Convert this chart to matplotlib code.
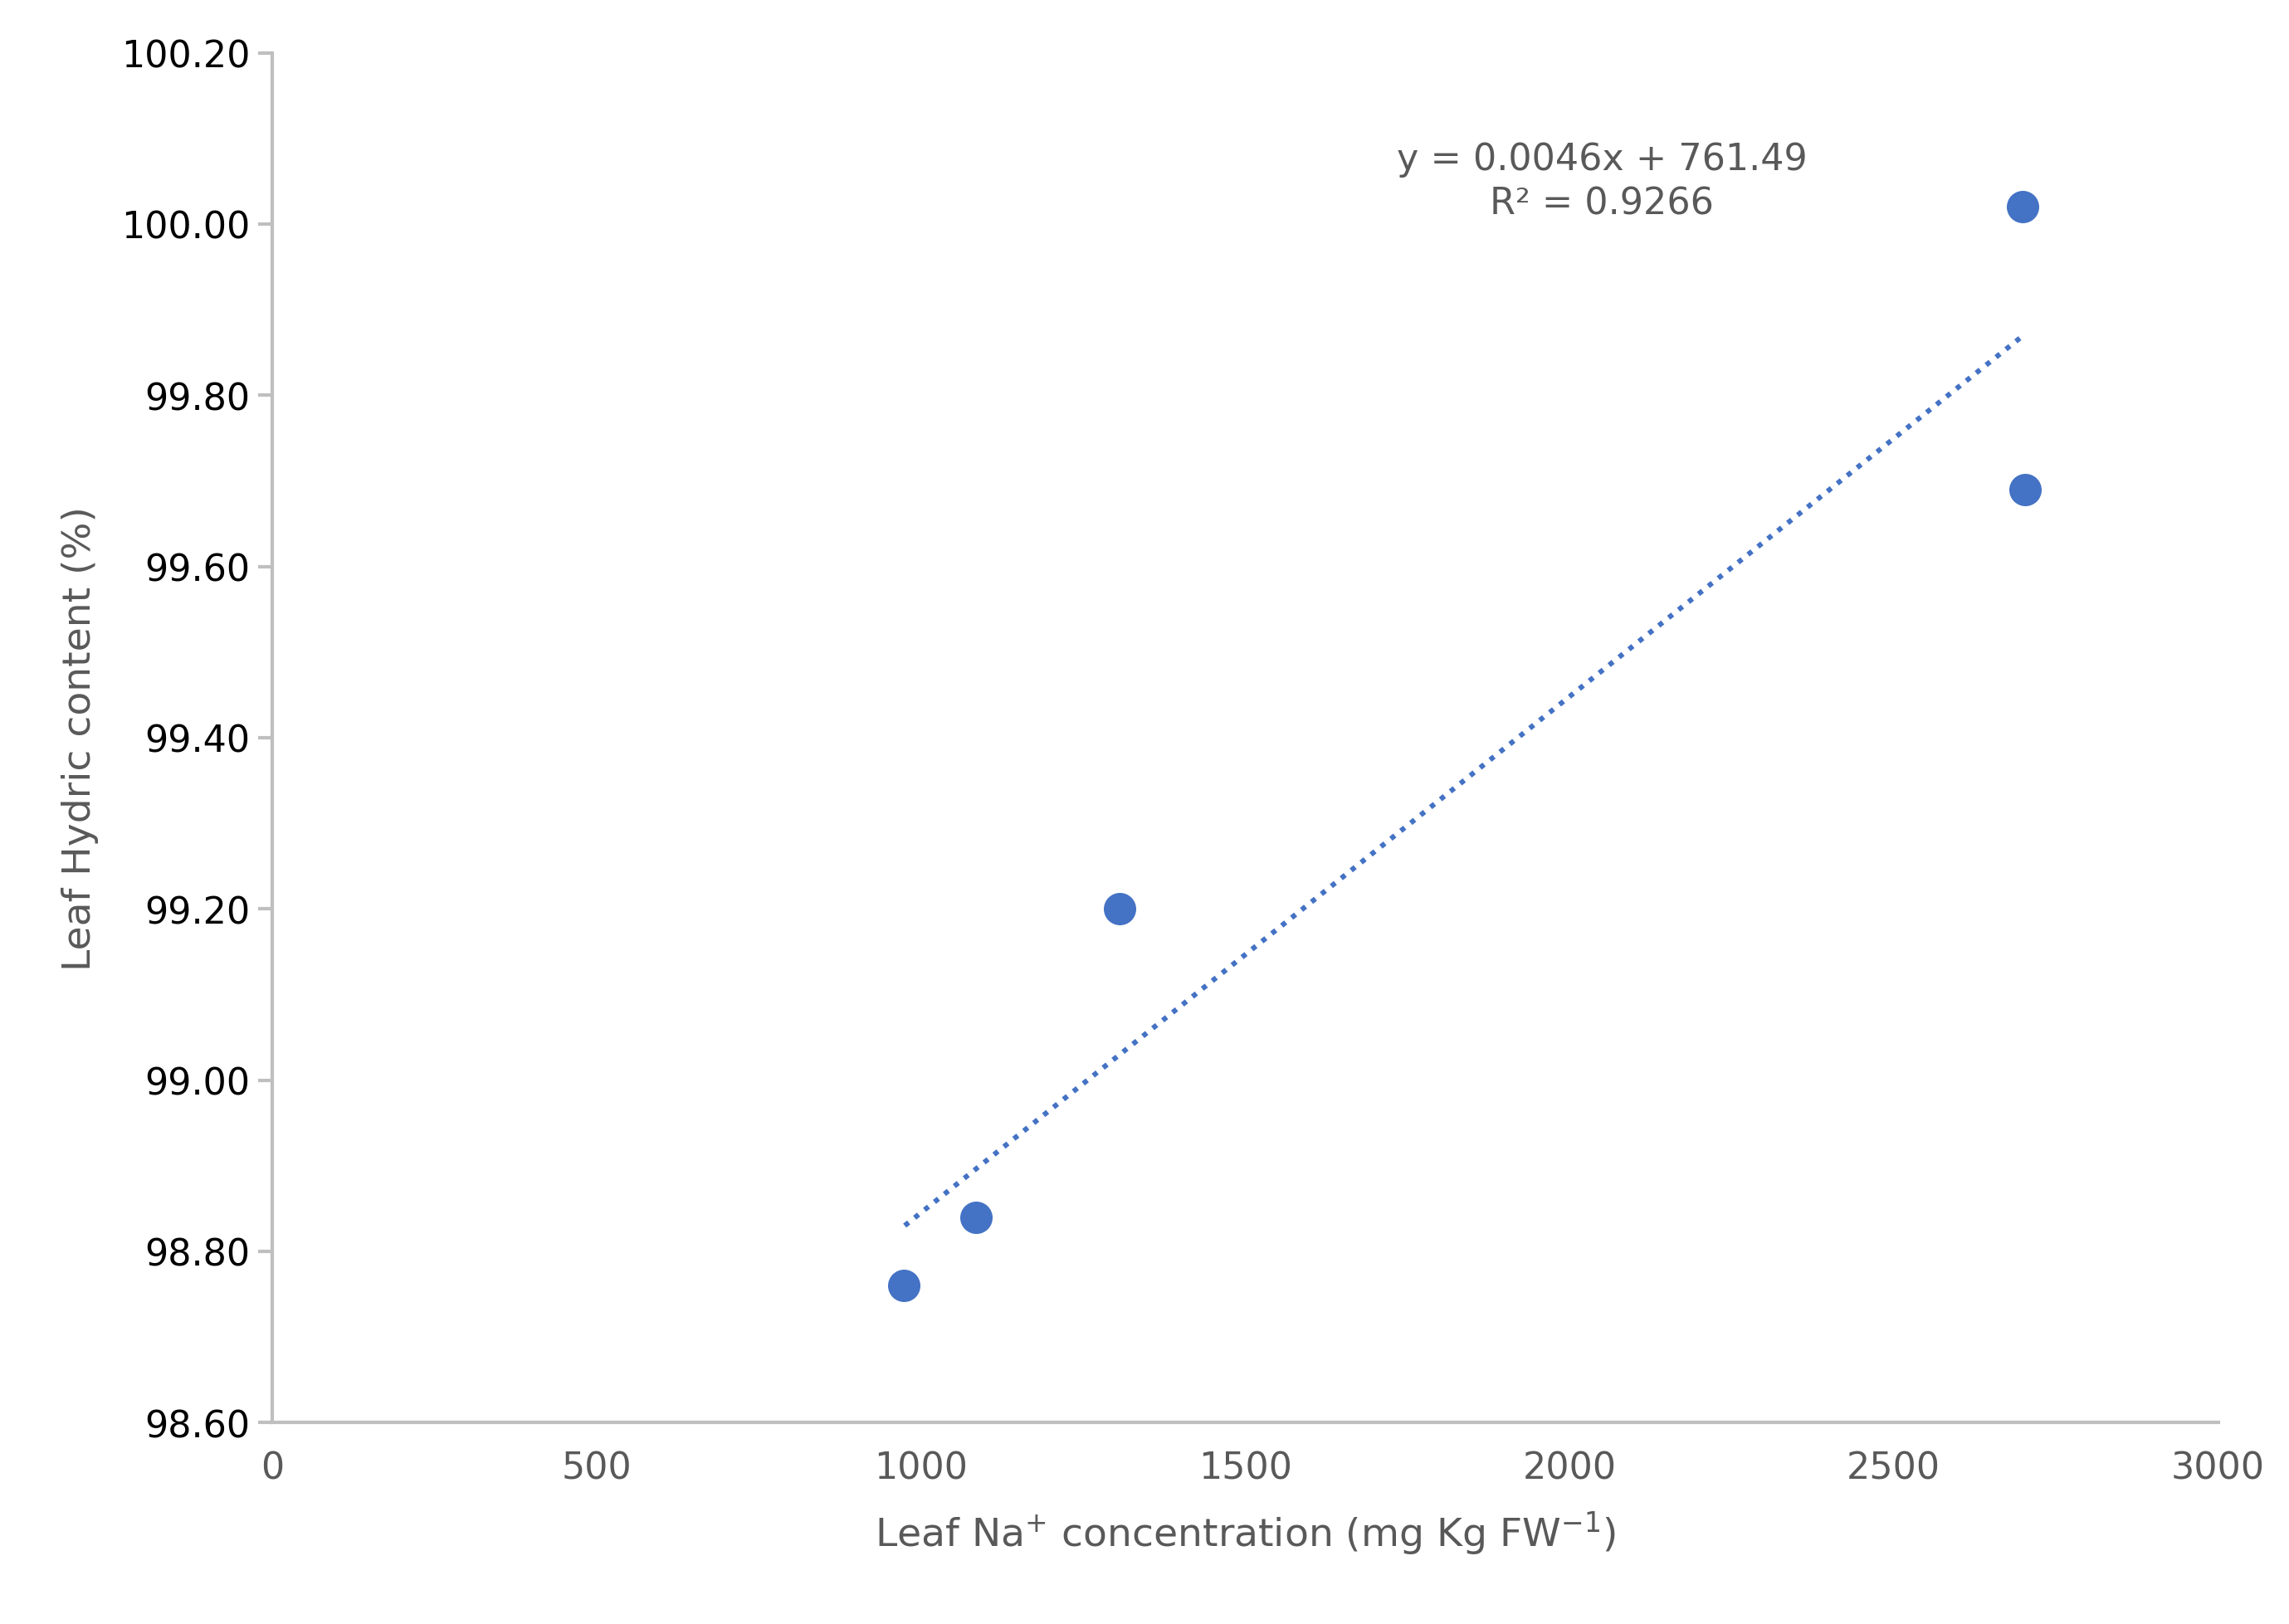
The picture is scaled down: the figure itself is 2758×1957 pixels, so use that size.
import matplotlib.pyplot as plt
import numpy as np

# data
na_conc = [973, 1085, 1306, 2699, 2703]
hydric = [98.76, 98.84, 99.20, 100.02, 99.69]
trend_x = [975, 2700]
trend_y = [98.83, 99.87]

fig = plt.figure(figsize=(13.79, 9.79), dpi=200)
ax = fig.add_axes([0.119, 0.124, 0.85, 0.843])

ax.scatter(na_conc, hydric, s=170, color='#4472C4', zorder=3)
ax.plot(trend_x, trend_y, linestyle=(0, (1, 1.5)), color='#4472C4', linewidth=2.2)

ax.set_xlim(0, 3000)
ax.set_ylim(98.6, 100.2)
ax.set_xticks(np.arange(0, 3001, 500))
ax.set_yticks(np.arange(98.6, 100.21, 0.2))
ax.set_yticklabels([f'{v:.2f}' for v in np.arange(98.6, 100.21, 0.2)])

for s in ['top', 'right']:
    ax.spines[s].set_visible(False)
for s in ['left', 'bottom']:
    ax.spines[s].set_color('#BFBFBF')
    ax.spines[s].set_linewidth(1.5)
ax.tick_params(axis='x', length=0, labelsize=16, colors='#595959', pad=12)
ax.tick_params(axis='y', length=6, width=1.5, color='#BFBFBF', labelsize=16, labelcolor='black')

ax.set_xlabel('Leaf Na$^{+}$ concentration (mg Kg FW$^{-1}$)', fontsize=17, color='#595959', labelpad=10)
ax.set_ylabel('Leaf Hydric content (%)', fontsize=17, color='#595959', labelpad=10)

ax.text(2050, 100.05, 'y = 0.0046x + 761.49\nR² = 0.9266', ha='center', va='center',
        fontsize=16, color='#595959', linespacing=1.3)

fig.savefig('out.png')
